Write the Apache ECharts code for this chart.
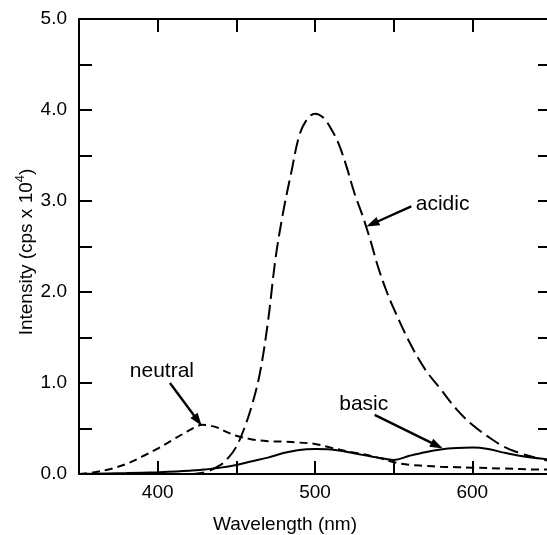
<!DOCTYPE html>
<html>
<head>
<meta charset="utf-8">
<script src="https://cdn.jsdelivr.net/npm/echarts@6/dist/echarts.min.js"></script>
<style>
html,body{margin:0;padding:0;background:#fff;}
#c{width:547px;height:535px;}
</style>
</head>
<body>
<div id="c"></div>
<script>
// ---- data ----
var acidicX = [420, 430, 440, 445, 450, 455, 460, 465, 470, 475, 480, 485, 490, 495, 500, 505, 510, 515, 520, 525, 530, 535, 540, 545, 550, 560, 570, 580, 590, 600, 610, 620, 630, 640, 650];
var acidicY = [0.0, 0.02, 0.1, 0.18, 0.3, 0.5, 0.76, 1.11, 1.66, 2.38, 2.9, 3.32, 3.72, 3.9, 3.96, 3.92, 3.8, 3.63, 3.38, 3.09, 2.85, 2.58, 2.28, 2.03, 1.82, 1.45, 1.15, 0.93, 0.71, 0.54, 0.41, 0.3, 0.23, 0.18, 0.14];

var neutralX = [350, 360, 370, 380, 390, 400, 410, 418, 424, 428, 432, 438, 444, 450, 460, 470, 480, 490, 500, 510, 520, 530, 540, 550, 560, 570, 580, 590, 600, 620, 640, 650];
var neutralY = [0.0, 0.02, 0.055, 0.11, 0.19, 0.28, 0.38, 0.46, 0.515, 0.54, 0.535, 0.51, 0.46, 0.42, 0.38, 0.36, 0.355, 0.345, 0.33, 0.29, 0.25, 0.22, 0.18, 0.13, 0.1, 0.09, 0.08, 0.075, 0.07, 0.06, 0.05, 0.05];

var basicX = [350, 380, 400, 420, 430, 440, 450, 460, 470, 480, 490, 500, 510, 520, 530, 540, 545, 550, 560, 570, 580, 590, 600, 610, 620, 630, 640, 650];
var basicY = [0.0, 0.01, 0.02, 0.035, 0.05, 0.07, 0.1, 0.14, 0.18, 0.23, 0.265, 0.275, 0.27, 0.245, 0.21, 0.18, 0.165, 0.155, 0.2, 0.24, 0.27, 0.285, 0.29, 0.275, 0.235, 0.2, 0.175, 0.16];

var xTickLabels = [400, 500, 600];
var yTickLabels = [0, 1, 2, 3, 4, 5];

var seriesNames = ['acidic', 'neutral', 'basic'];
// annotation: label anchor, arrow tail, arrow tip (data coordinates)
var annText = ['neutral', 'basic', 'acidic'];
var annLabelPos = [[402.7, 1.13], [531, 0.77], [581.1, 2.97]];
var annTail = [[407.8, 1.0], [537.9, 0.65], [561.2, 2.94]];
var annTip = [[428, 0.53], [581.3, 0.28], [532.7, 2.72]];

var xAxisName = 'Wavelength (nm)';
var yAxisNameParts = ['Intensity (cps x 10', '4', ')'];

function zip(xs, ys) { return xs.map(function (x, i) { return [x, ys[i]]; }); }

var FONT = 'Liberation Sans';
var chart = echarts.init(document.getElementById('c'), null, {renderer: 'canvas'});

var axisCommon = {
  type: 'value',
  axisLine: {show: true, onZero: false, lineStyle: {color: '#000', width: 2}},
  axisTick: {show: true, inside: true, length: 13, lineStyle: {color: '#000', width: 2}},
  splitLine: {show: false}
};

var option = {
  animation: false,
  backgroundColor: '#fff',
  grid: {left: 79, top: 19, width: 472, height: 455, containLabel: false, outerBoundsMode: 'none'},
  xAxis: [
    Object.assign({}, axisCommon, {
      position: 'bottom', min: 350, max: 650, interval: 50,
      axisLabel: {
        color: '#000', fontFamily: FONT, fontSize: 19, margin: 9,
        formatter: function (v) { return xTickLabels.indexOf(v) >= 0 ? String(v) : ''; }
      }
    }),
    Object.assign({}, axisCommon, {
      position: 'top', min: 350, max: 650, interval: 50,
      axisLabel: {show: false}
    })
  ],
  yAxis: [
    Object.assign({}, axisCommon, {
      position: 'left', min: 0, max: 5, interval: 0.5,
      axisLabel: {
        color: '#000', fontFamily: FONT, fontSize: 19, margin: 12,
        formatter: function (v) {
          var r = Math.round(v * 10) / 10;
          return yTickLabels.indexOf(r) >= 0 ? r.toFixed(1) : '';
        }
      }
    }),
    Object.assign({}, axisCommon, {
      position: 'right', min: 0, max: 5, interval: 0.5,
      axisLabel: {show: false}
    })
  ],
  series: [
    {
      name: seriesNames[0], type: 'line', xAxisIndex: 0, yAxisIndex: 0,
      data: zip(acidicX, acidicY), smooth: 0.35, showSymbol: false,
      lineStyle: {color: '#000', width: 2, type: [15, 6]}
    },
    {
      name: seriesNames[1], type: 'line', xAxisIndex: 0, yAxisIndex: 0,
      data: zip(neutralX, neutralY), smooth: 0.35, showSymbol: false,
      lineStyle: {color: '#000', width: 2, type: [8, 5]}
    },
    {
      name: seriesNames[2], type: 'line', xAxisIndex: 0, yAxisIndex: 0,
      data: zip(basicX, basicY), smooth: 0.35, showSymbol: false,
      lineStyle: {color: '#000', width: 2, type: 'solid'}
    }
  ]
};
chart.setOption(option);

// annotations and axis titles placed through the chart's own coordinate system
function px(p) { return chart.convertToPixel({gridIndex: 0}, p); }
var graphics = [];
for (var i = 0; i < annText.length; i++) {
  var lp = px(annLabelPos[i]);
  var t = px(annTail[i]);
  var h = px(annTip[i]);
  graphics.push({
    type: 'text', x: lp[0], y: lp[1],
    style: {text: annText[i], fill: '#000', font: '21px "Liberation Sans"', textAlign: 'center', textVerticalAlign: 'middle'}
  });
  var dx = h[0] - t[0], dy = h[1] - t[1];
  var len = Math.sqrt(dx * dx + dy * dy);
  var ux = dx / len, uy = dy / len;
  var headL = 13, headW = 4.5;
  var bx = h[0] - ux * headL, by = h[1] - uy * headL;
  graphics.push({
    type: 'line',
    shape: {x1: t[0], y1: t[1], x2: bx + ux * 2, y2: by + uy * 2},
    style: {stroke: '#000', lineWidth: 2.4}
  });
  graphics.push({
    type: 'polygon',
    shape: {points: [[h[0], h[1]], [bx - uy * headW, by + ux * headW], [bx + uy * headW, by - ux * headW]]},
    style: {fill: '#000'}
  });
}
graphics.push({
  type: 'text', x: 285, y: 525,
  style: {text: xAxisName, fill: '#000', font: '19px "Liberation Sans"', textAlign: 'center', textVerticalAlign: 'middle'}
});
graphics.push({
  type: 'text', x: 25, y: 252, rotation: Math.PI / 2,
  style: {
    text: '{t|' + yAxisNameParts[0] + '}{s|' + yAxisNameParts[1] + '}{t|' + yAxisNameParts[2] + '}',
    textAlign: 'center', textVerticalAlign: 'middle',
    rich: {
      t: {fontFamily: FONT, fontSize: 19, fill: '#000', color: '#000', lineHeight: 22, verticalAlign: 'bottom'},
      s: {fontFamily: FONT, fontSize: 13, fill: '#000', color: '#000', lineHeight: 22, verticalAlign: 'top'}
    }
  }
});
chart.setOption({graphic: graphics});
</script>
</body>
</html>
